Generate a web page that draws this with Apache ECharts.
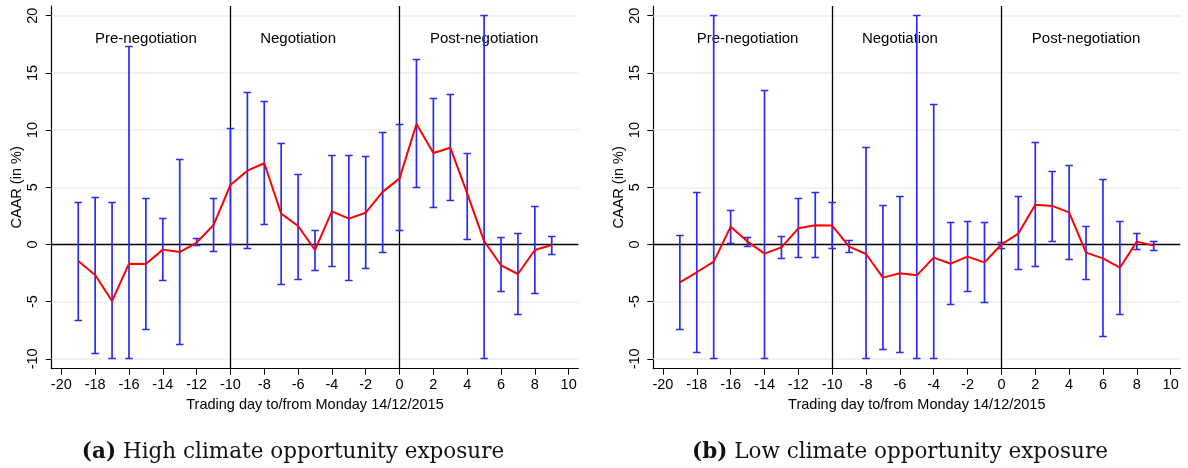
<!DOCTYPE html>
<html>
<head>
<meta charset="utf-8">
<script src="https://cdn.jsdelivr.net/npm/echarts@6/dist/echarts.min.js"></script>
<style>
html,body{margin:0;padding:0;background:#fff;}
#chart{width:1188px;height:468px;}
</style>
</head>
<body>
<div id="chart"></div>
<script>
// ---- data ----
const days = [-19,-18,-17,-16,-15,-14,-13,-12,-11,-10,-9,-8,-7,-6,-5,-4,-3,-2,-1,0,1,2,3,4,5,6,7,8,9];

// (a) High climate opportunity exposure
const highCaar = [-1.44,-2.67,-4.94,-1.68,-1.70,-0.45,-0.66,0.16,1.70,5.20,6.45,7.10,2.70,1.62,-0.48,2.90,2.26,2.78,4.60,5.78,10.53,8.00,8.46,4.47,0.30,-1.82,-2.58,-0.48,-0.04];
const highLo   = [-6.66,-9.51,-10.0,-10.0,-7.42,-3.19,-8.78,-0.13,-0.57,0.04,-0.36,1.76,-3.49,-3.02,-2.29,-1.91,-3.19,-2.11,-0.74,1.21,4.97,3.22,3.86,0.42,-10.0,-4.15,-6.10,-4.30,-0.86];
const highHi   = [3.69,4.12,3.66,17.30,4.00,2.29,7.47,0.48,4.06,10.18,13.27,12.46,8.84,6.16,1.21,7.76,7.74,7.68,9.80,10.45,16.13,12.75,13.10,7.97,20.0,0.57,0.95,3.31,0.68];

// (b) Low climate opportunity exposure
const lowCaar = [-3.31,-2.43,-1.50,1.56,0.25,-0.80,-0.25,1.41,1.68,1.65,-0.19,-0.83,-2.90,-2.52,-2.70,-1.15,-1.68,-1.06,-1.56,0.00,0.95,3.48,3.37,2.81,-0.71,-1.21,-2.03,0.25,-0.10];
const lowLo   = [-7.47,-9.48,-10.0,0.10,-0.22,-10.0,-1.21,-1.18,-1.18,-0.39,-0.68,-10.0,-9.22,-9.43,-10.0,-10.0,-5.29,-4.10,-5.05,-0.31,-2.23,-1.91,0.25,-1.27,-3.02,-8.06,-6.16,-0.42,-0.54];
const lowHi   = [0.80,4.53,20.0,2.99,0.60,13.50,0.68,3.98,4.53,3.66,0.33,8.46,3.40,4.22,20.0,12.25,1.91,2.00,1.88,0.19,4.18,8.90,6.40,6.92,1.56,5.64,2.05,0.92,0.25];

const xTicks = [-20,-18,-16,-14,-12,-10,-8,-6,-4,-2,0,2,4,6,8,10];
const yTicks = [-10,-5,0,5,10,15,20];
const gridValues = [-10,-5,5,10,15,20];
const phaseBreaks = [-10,0];
const phaseNames = ['Pre-negotiation','Negotiation','Post-negotiation'];
const phaseX = [-15,-6,5];
const phaseY = 18;
const captions = [['(a)','High climate opportunity exposure'],['(b)','Low climate opportunity exposure']];
const yName = 'CAAR (in %)';
const xName = 'Trading day to/from Monday 14/12/2015';

// ---- styles ----
const BLUE = '#2a2aff';
const RED = '#ff0000';
const FONT = 'Liberation Sans, Arial, sans-serif';
const TXT = '#000';

const chart = echarts.init(document.getElementById('chart'), null, {renderer:'canvas'});

const grids = [
  {left:51.7, top:6, width:526.6, height:362.7},
  {left:653.3, top:6, width:527, height:362.7}
];

function makeX(i){
  return {
    type:'value', gridIndex:i, min:-20.57, max:10.57,
    axisLine:{show:true, onZero:false, lineStyle:{color:'#000', width:1.2}},
    axisTick:{show:true, length:6, customValues:xTicks, lineStyle:{color:'#000', width:1}},
    axisLabel:{customValues:xTicks, margin:9, fontSize:14.5, color:TXT, fontFamily:FONT},
    splitLine:{show:false},
    name:xName, nameLocation:'middle', nameGap:27,
    nameTextStyle:{fontSize:14.5, color:TXT, fontFamily:FONT}
  };
}
function makeY(i){
  return {
    type:'value', gridIndex:i, min:-10.86, max:20.85,
    axisLine:{show:true, onZero:false, lineStyle:{color:'#000', width:1.2}},
    axisTick:{show:true, length:6, customValues:yTicks, lineStyle:{color:'#000', width:1}},
    axisLabel:{customValues:yTicks, rotate:90, margin:11, fontSize:14.5, color:TXT, fontFamily:FONT},
    splitLine:{show:false},
    name:yName, nameLocation:'middle', nameGap:25, nameRotate:90,
    nameTextStyle:{fontSize:14.5, color:TXT, fontFamily:FONT}
  };
}

function snap(v){ return Math.round(v - 0.5) + 0.5; }

function renderErr(params, api){
  const x = api.value(0), lo = api.value(1), hi = api.value(2);
  const p1 = api.coord([x, lo]), p2 = api.coord([x, hi]);
  const w = 3.8;
  const y1 = snap(p1[1]), y2 = snap(p2[1]);
  const st = {stroke:BLUE, lineWidth:1.7};
  const stc = {stroke:BLUE, lineWidth:1.5};
  return {type:'group', children:[
    {type:'line', shape:{x1:p1[0], y1:y1, x2:p2[0], y2:y2}, style:st},
    {type:'line', shape:{x1:p1[0]-w, y1:y1, x2:p1[0]+w, y2:y1}, style:stc},
    {type:'line', shape:{x1:p2[0]-w, y1:y2, x2:p2[0]+w, y2:y2}, style:stc}
  ]};
}

function panelSeries(i, caar, lo, hi){
  return [
    // gridlines
    {type:'line', xAxisIndex:i, yAxisIndex:i, data:[], z:1, silent:true,
     markLine:{silent:true, z:1, symbol:'none', label:{show:false}, animation:false,
       lineStyle:{color:'#e8f0f0', width:1.5, type:'solid'},
       data: gridValues.map(v => ({yAxis:v}))}},
    // black reference lines
    {type:'line', xAxisIndex:i, yAxisIndex:i, data:[], z:2, silent:true,
     markLine:{silent:true, z:2, symbol:'none', label:{show:false}, animation:false,
       lineStyle:{color:'#000', width:1.3, type:'solid'},
       data: [{yAxis:0}].concat(phaseBreaks.map(v => ({xAxis:v})))}},
    // phase labels
    {type:'scatter', xAxisIndex:i, yAxisIndex:i, symbolSize:0, z:2, silent:true,
     itemStyle:{opacity:1},
     data: phaseNames.map((n,k) => [phaseX[k], phaseY, n]),
     label:{show:true, position:'inside', formatter:p => p.value[2], fontSize:15, color:'#000', opacity:1, fontFamily:FONT}},
    // error bars
    {type:'custom', xAxisIndex:i, yAxisIndex:i, z:3, renderItem:renderErr, silent:true, clip:false,
     data: days.map((d,k) => [d, lo[k], hi[k]])},
    // CAAR line
    {type:'line', xAxisIndex:i, yAxisIndex:i, z:4, symbol:'none', silent:true,
     lineStyle:{color:RED, width:2},
     data: days.map((d,k) => [d, caar[k]])}
  ];
}

const option = {
  backgroundColor:'#fff',
  animation:false,
  grid: grids,
  xAxis:[makeX(0), makeX(1)],
  yAxis:[makeY(0), makeY(1)],
  series: panelSeries(0, highCaar, highLo, highHi).concat(panelSeries(1, lowCaar, lowLo, lowHi)),
  graphic: captions.map((c,k) => ({
    type:'text', x:[293,900][k], y:452,
    style:{
      text:'{b|' + c[0] + '} ' + c[1],
      align:'center', verticalAlign:'middle',
      font:'21.5px "DejaVu Serif", serif', fill:'#111',
      rich:{b:{fontWeight:'bold', fontSize:21.5, fontFamily:'DejaVu Serif'}}
    }
  }))
};
chart.setOption(option);
</script>
</body>
</html>
